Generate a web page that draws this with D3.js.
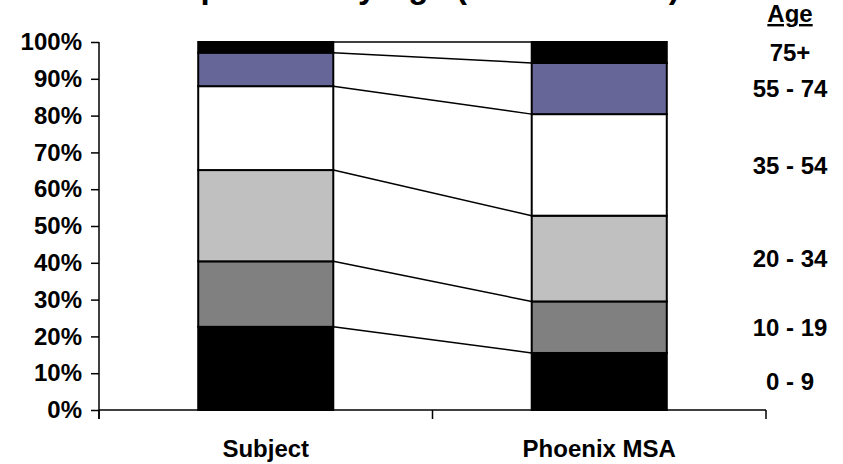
<!DOCTYPE html>
<html>
<head>
<meta charset="utf-8">
<script src="https://cdn.jsdelivr.net/npm/d3@7"></script>
<style>
  html, body { margin: 0; padding: 0; background: #fff; }
  svg { display: block; font-family: "Liberation Sans", Arial, sans-serif; font-weight: bold; }
</style>
</head>
<body>
<svg id="chart" width="843" height="464"></svg>
<script>
// Population share by age group (percent of total)
const categories = ["Subject", "Phoenix MSA"];
const ageGroups = ["0 - 9", "10 - 19", "20 - 34", "35 - 54", "55 - 74", "75+"];
const subjectValues = [22.6, 17.8, 24.8, 22.8, 9.1, 2.9];
const phoenixValues = [15.5, 14.0, 23.3, 27.6, 13.9, 5.7];
const groupColors = ["#000000", "#808080", "#c0c0c0", "#ffffff", "#666699", "#000000"];
const yTicks = [0, 10, 20, 30, 40, 50, 60, 70, 80, 90, 100];
const titleText = "Population by Age (2000 Census)";
const legendTitle = "Age";

const seriesValues = [subjectValues, phoenixValues];

const svg = d3.select("#chart");
const plot = { left: 99, right: 766, top: 42, bottom: 410 };

const x = d3.scaleBand().domain(categories).range([plot.left, plot.right]).paddingInner(0).paddingOuter(0);
const barW = x.bandwidth() * 0.405;
const y = d3.scaleLinear().domain([0, 100]).range([plot.bottom, plot.top]);

// Cumulative stacks per category
const stacks = categories.map((c, ci) => {
  let acc = 0;
  return seriesValues[ci].map((v, gi) => {
    const s = { cat: c, group: ageGroups[gi], y0: acc, y1: acc + v, color: groupColors[gi] };
    acc += v;
    return s;
  });
});

const barX = c => x(c) + (x.bandwidth() - barW) / 2;

// Series lines linking segment tops between the two bars
const links = svg.append("g");
ageGroups.forEach((g, gi) => {
  links.append("line")
    .attr("x1", barX(categories[0]) + barW)
    .attr("x2", barX(categories[1]))
    .attr("y1", y(stacks[0][gi].y1))
    .attr("y2", y(stacks[1][gi].y1))
    .attr("stroke", "#000")
    .attr("stroke-width", 1.5);
});

// Stacked bars
const bars = svg.append("g");
stacks.forEach(stack => {
  bars.selectAll(null)
    .data(stack)
    .enter()
    .append("rect")
    .attr("x", d => barX(d.cat))
    .attr("width", barW)
    .attr("y", d => y(d.y1))
    .attr("height", d => y(d.y0) - y(d.y1))
    .attr("fill", d => d.color)
    .attr("stroke", "#000")
    .attr("stroke-width", 2);
});

// Y axis
const yAxis = d3.axisLeft(y)
  .tickValues(yTicks)
  .tickFormat(d => d + "%")
  .tickSize(8)
  .tickPadding(9);
const gy = svg.append("g").attr("transform", `translate(${plot.left},0)`).call(yAxis);
gy.select(".domain").remove();
gy.append("line")
  .attr("x1", 0).attr("x2", 0)
  .attr("y1", plot.top).attr("y2", plot.bottom + 9)
  .attr("stroke", "#000").attr("stroke-width", 1.5);
gy.selectAll(".tick line").attr("stroke", "#000").attr("stroke-width", 1.5);
gy.selectAll(".tick text")
  .attr("fill", "#000")
  .style("font-size", "24px")
  .style("font-weight", "bold")
  .style("font-family", "'Liberation Sans', Arial, sans-serif");

// X axis with boundary tick marks
const gx = svg.append("g");
gx.append("line")
  .attr("x1", plot.left).attr("x2", plot.right)
  .attr("y1", plot.bottom).attr("y2", plot.bottom)
  .attr("stroke", "#000").attr("stroke-width", 1.5);
const boundaries = categories.map(c => x(c)).concat([x(categories[categories.length - 1]) + x.bandwidth()]);
gx.selectAll(null).data(boundaries).enter().append("line")
  .attr("x1", d => d).attr("x2", d => d)
  .attr("y1", plot.bottom).attr("y2", plot.bottom + 9)
  .attr("stroke", "#000").attr("stroke-width", 1.5);
gx.selectAll(null).data(categories).enter().append("text")
  .attr("x", d => x(d) + x.bandwidth() / 2)
  .attr("y", 457)
  .attr("text-anchor", "middle")
  .style("font-size", "24px")
  .text(d => d);

// Title (sits at the very top edge)
svg.append("text")
  .attr("x", 419)
  .attr("y", -2)
  .attr("text-anchor", "middle")
  .style("font-size", "33px")
  .text(titleText);

// Age-group labels beside the second bar
const lx = 790;
svg.append("text")
  .attr("x", lx).attr("y", 22)
  .attr("text-anchor", "middle")
  .style("font-size", "24px")
  .style("text-decoration", "underline")
  .text(legendTitle);
svg.append("g").selectAll("text")
  .data(stacks[1])
  .enter()
  .append("text")
  .attr("x", lx)
  .attr("y", d => y((d.y0 + d.y1) / 2))
  .attr("dy", "0.36em")
  .attr("text-anchor", "middle")
  .style("font-size", "24px")
  .text(d => d.group);
</script>
</body>
</html>
